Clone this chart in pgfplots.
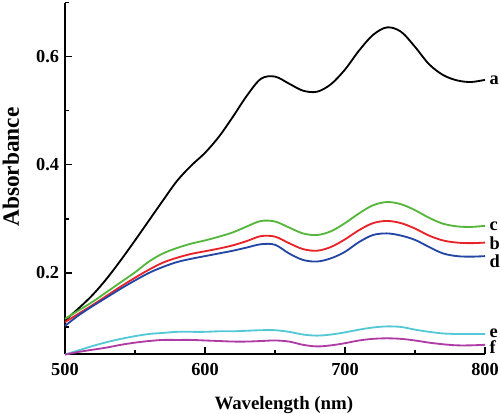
\documentclass[border=0pt]{standalone}
\usepackage{pgfplots}
\pgfplotsset{compat=1.18}
\usepackage{fontspec}
\setmainfont{Liberation Serif}
\definecolor{cG}{RGB}{85,182,60}
\definecolor{cR}{RGB}{232,35,40}
\definecolor{cB}{RGB}{35,70,165}
\definecolor{cC}{RGB}{85,200,215}
\definecolor{cM}{RGB}{175,60,165}
\begin{document}
\begin{tikzpicture}
\useasboundingbox (-39pt,-36pt) rectangle (261pt,212.4pt);
\begin{axis}[
  scale only axis,
  width=252pt, height=210.9pt,
  at={(0,0)}, anchor=south west,
  xmin=500, xmax=800, ymin=0.05, ymax=0.70,
  axis lines*=left,
  axis line style={line width=1.1pt},
  tick align=inside,
  major tick length=4.2pt, minor tick length=2.2pt,
  every tick/.style={line width=0.9pt, black},
  xtick={500,600,700,800}, minor xtick={550,650,750},
  ytick={0.2,0.4,0.6}, minor ytick={0.1,0.3,0.5,0.7},
  /pgf/number format/assume math mode=true,
  yticklabel style={/pgf/number format/fixed,/pgf/number format/precision=1},
  tick label style={font=\fontsize{11}{13}\selectfont\bfseries},
  xticklabel style={yshift=-2pt},
  xlabel={Wavelength (nm)},
  ylabel={Absorbance},
  xlabel style={font=\fontsize{11.3}{13}\selectfont\bfseries, at={(axis description cs:0.521,-0.145)}, anchor=center},
  ylabel style={font=\fontsize{14}{16}\selectfont\bfseries, at={(axis description cs:-0.129,0.532)}, anchor=center},
  clip=false,
  every axis plot/.style={line width=1.1pt, smooth, tension=0.55},
]
% a
\addplot[black] coordinates {(500,0.112)(510,0.135)(520,0.160)(530,0.190)(540,0.224)(550,0.260)(560,0.297)(570,0.334)(580,0.370)(590,0.398)(600,0.422)(610,0.452)(620,0.489)(630,0.528)(640,0.559)(650,0.563)(660,0.550)(670,0.537)(680,0.535)(690,0.549)(700,0.576)(710,0.611)(720,0.640)(730,0.654)(740,0.646)(750,0.618)(760,0.586)(770,0.566)(780,0.556)(790,0.553)(800,0.557)};
% c
\addplot[cG] coordinates {(500,0.115)(510,0.131)(520,0.147)(530,0.165)(540,0.183)(550,0.201)(560,0.221)(570,0.236)(580,0.246)(590,0.254)(600,0.260)(610,0.267)(620,0.275)(630,0.286)(640,0.296)(650,0.295)(660,0.284)(670,0.273)(680,0.270)(690,0.277)(700,0.292)(710,0.310)(720,0.325)(730,0.331)(740,0.327)(750,0.316)(760,0.302)(770,0.291)(780,0.286)(790,0.285)(800,0.287)};
% b
\addplot[cR] coordinates {(500,0.109)(510,0.125)(520,0.141)(530,0.158)(540,0.175)(550,0.191)(560,0.206)(570,0.219)(580,0.228)(590,0.235)(600,0.240)(610,0.245)(620,0.251)(630,0.259)(640,0.268)(650,0.267)(660,0.255)(670,0.244)(680,0.241)(690,0.248)(700,0.262)(710,0.279)(720,0.292)(730,0.296)(740,0.292)(750,0.282)(760,0.269)(770,0.260)(780,0.256)(790,0.255)(800,0.256)};
% d
\addplot[cB] coordinates {(500,0.102)(510,0.122)(520,0.139)(530,0.155)(540,0.171)(550,0.186)(560,0.200)(570,0.211)(580,0.220)(590,0.226)(600,0.231)(610,0.236)(620,0.241)(630,0.247)(640,0.253)(650,0.252)(660,0.236)(670,0.224)(680,0.221)(690,0.227)(700,0.239)(710,0.257)(720,0.270)(730,0.273)(740,0.269)(750,0.261)(760,0.248)(770,0.236)(780,0.231)(790,0.230)(800,0.231)};
% e
\addplot[cC] coordinates {(500,0.049)(510,0.057)(520,0.065)(530,0.072)(540,0.078)(550,0.083)(560,0.087)(570,0.089)(580,0.091)(590,0.091)(600,0.091)(610,0.092)(620,0.092)(630,0.093)(640,0.094)(650,0.094)(660,0.091)(670,0.086)(680,0.084)(690,0.086)(700,0.090)(710,0.095)(720,0.099)(730,0.101)(740,0.100)(750,0.095)(760,0.091)(770,0.088)(780,0.087)(790,0.087)(800,0.087)};
% f
\addplot[cM] coordinates {(500,0.049)(510,0.054)(520,0.058)(530,0.062)(540,0.067)(550,0.071)(560,0.074)(570,0.076)(580,0.076)(590,0.076)(600,0.075)(610,0.074)(620,0.073)(630,0.073)(640,0.074)(650,0.075)(660,0.073)(670,0.067)(680,0.064)(690,0.066)(700,0.070)(710,0.075)(720,0.078)(730,0.079)(740,0.078)(750,0.075)(760,0.071)(770,0.068)(780,0.066)(790,0.066)(800,0.067)};
\begin{scope}[every node/.style={anchor=west, inner sep=0pt, font=\fontsize{11}{13}\selectfont\bfseries}]
\node at (axis cs:803,0.556) {a};
\node at (axis cs:803,0.287) {c};
\node at (axis cs:803,0.255) {b};
\node at (axis cs:803,0.221) {d};
\node at (axis cs:803,0.088) {e};
\node at (axis cs:803,0.062) {f};
\end{scope}
\end{axis}
\end{tikzpicture}
\end{document}
